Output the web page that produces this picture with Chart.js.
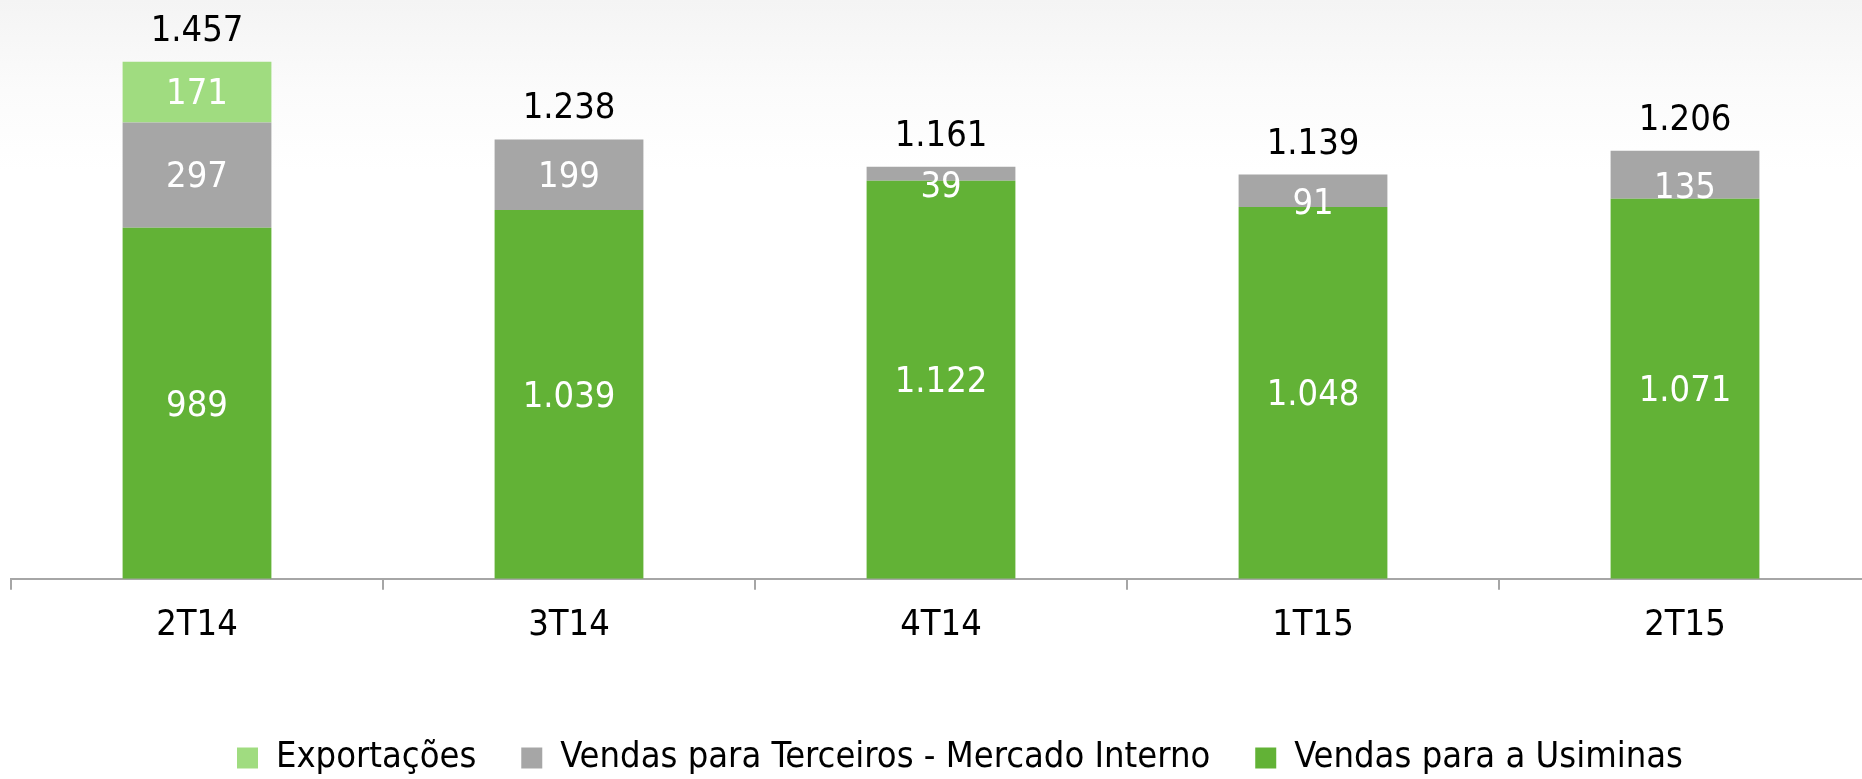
<!DOCTYPE html>
<html>
<head>
<meta charset="utf-8">
<script src="https://cdn.jsdelivr.net/npm/chart.js@4.4.1/dist/chart.umd.min.js"></script>
<style>
  html, body { margin: 0; padding: 0; overflow: hidden; background: #fff; }
  #wrap {
    position: relative;
    width: 1909px;
    height: 786px;
    background: linear-gradient(to bottom, #f4f4f4 0px, #fbfbfb 90px, #ffffff 170px);
  }
</style>
</head>
<body>
<div id="wrap"><canvas id="chart"></canvas></div>
<script>
// ── Data (mil t) ──────────────────────────────────────────────
const quarters     = ['2T14', '3T14', '4T14', '1T15', '2T15'];
const usiminas     = [989, 1039, 1122, 1048, 1071];
const terceiros    = [297, 199, 39, 91, 135];
const exportacoes  = [171, null, null, null, null];

const seriesNames = ['Vendas para a Usiminas', 'Vendas para Terceiros - Mercado Interno', 'Exportações'];
const seriesColors = ['#62b236', '#a6a6a6', '#a0dc80'];

// ── Shared defaults ───────────────────────────────────────────
const FONT = "'DejaVu Sans Condensed', 'DejaVu Sans', sans-serif";
Chart.defaults.font.family = FONT;
Chart.defaults.color = '#000';

/** 1457 -> "1.457" (pt-BR thousands separator) */
function fmt(v) {
  return String(v).replace(/\B(?=(\d{3})+(?!\d))/g, '.');
}

// Segment labels (white, inside) and totals (black, above the stack)
const barLabels = {
  id: 'barLabels',
  afterDatasetsDraw(chart) {
    const c = chart.ctx;
    c.save();
    c.textAlign = 'center';
    c.textBaseline = 'middle';
    c.font = `36px ${FONT}`;
    c.fillStyle = '#fff';
    chart.data.datasets.forEach((ds, di) => {
      chart.getDatasetMeta(di).data.forEach((bar, i) => {
        const v = ds.data[i];
        if (v == null) return;
        const h = Math.abs(bar.base - bar.y);
        // thin segments: label hangs a little below the middle
        const cy = (bar.y + bar.base) / 2 + (h < 55 ? 14 : 3);
        c.fillText(fmt(v), bar.x, cy);
      });
    });

    const yScale = chart.scales.y;
    c.fillStyle = '#000';
    c.textBaseline = 'alphabetic';
    quarters.forEach((q, i) => {
      const total = usiminas[i] + terceiros[i] + (exportacoes[i] || 0);
      const x = chart.getDatasetMeta(0).data[i].x;
      c.fillText(fmt(total), x, yScale.getPixelForValue(total) - 21);
    });
    c.restore();
  },
};

new Chart(document.getElementById('chart'), {
  type: 'bar',
  data: {
    labels: quarters,
    datasets: [
      { label: seriesNames[0], data: usiminas,    backgroundColor: seriesColors[0] },
      { label: seriesNames[1], data: terceiros,   backgroundColor: seriesColors[1] },
      { label: seriesNames[2], data: exportacoes, backgroundColor: seriesColors[2] },
    ],
  },
  options: {
    responsive: true,
    maintainAspectRatio: false,
    animation: false,
    datasets: {
      bar: { barPercentage: 0.4, categoryPercentage: 1, borderWidth: 0 },
    },
    layout: { padding: { left: 11, right: 0, top: 11, bottom: 0 } },
    plugins: {
      legend: {
        position: 'bottom',
        reverse: true,
        title: { display: true, text: '', font: { size: 10 }, padding: { top: 22, bottom: 0 } },
        labels: {
          boxWidth: 21,
          boxHeight: 21,
          padding: 45,
          color: '#000',
          font: { size: 36 },
        },
      },
      tooltip: { enabled: false },
    },
    scales: {
      x: {
        stacked: true,
        grid: {
          offset: true,
          drawOnChartArea: false,
          tickLength: 11,
          color: '#a6a6a6',
          lineWidth: 2,
        },
        border: { color: '#a6a6a6', width: 2 },
        ticks: { color: '#000', padding: 14, font: { size: 36 } },
      },
      y: {
        stacked: true,
        position: 'right',
        min: 0,
        max: 1600,
        grid: { display: false },
        border: { display: false },
        ticks: { display: false },
        // empty strip on the right so the legend sits off-centre like the original
        afterFit(scale) { scale.width = 38; },
      },
    },
  },
  plugins: [barLabels],
});
</script>
</body>
</html>
